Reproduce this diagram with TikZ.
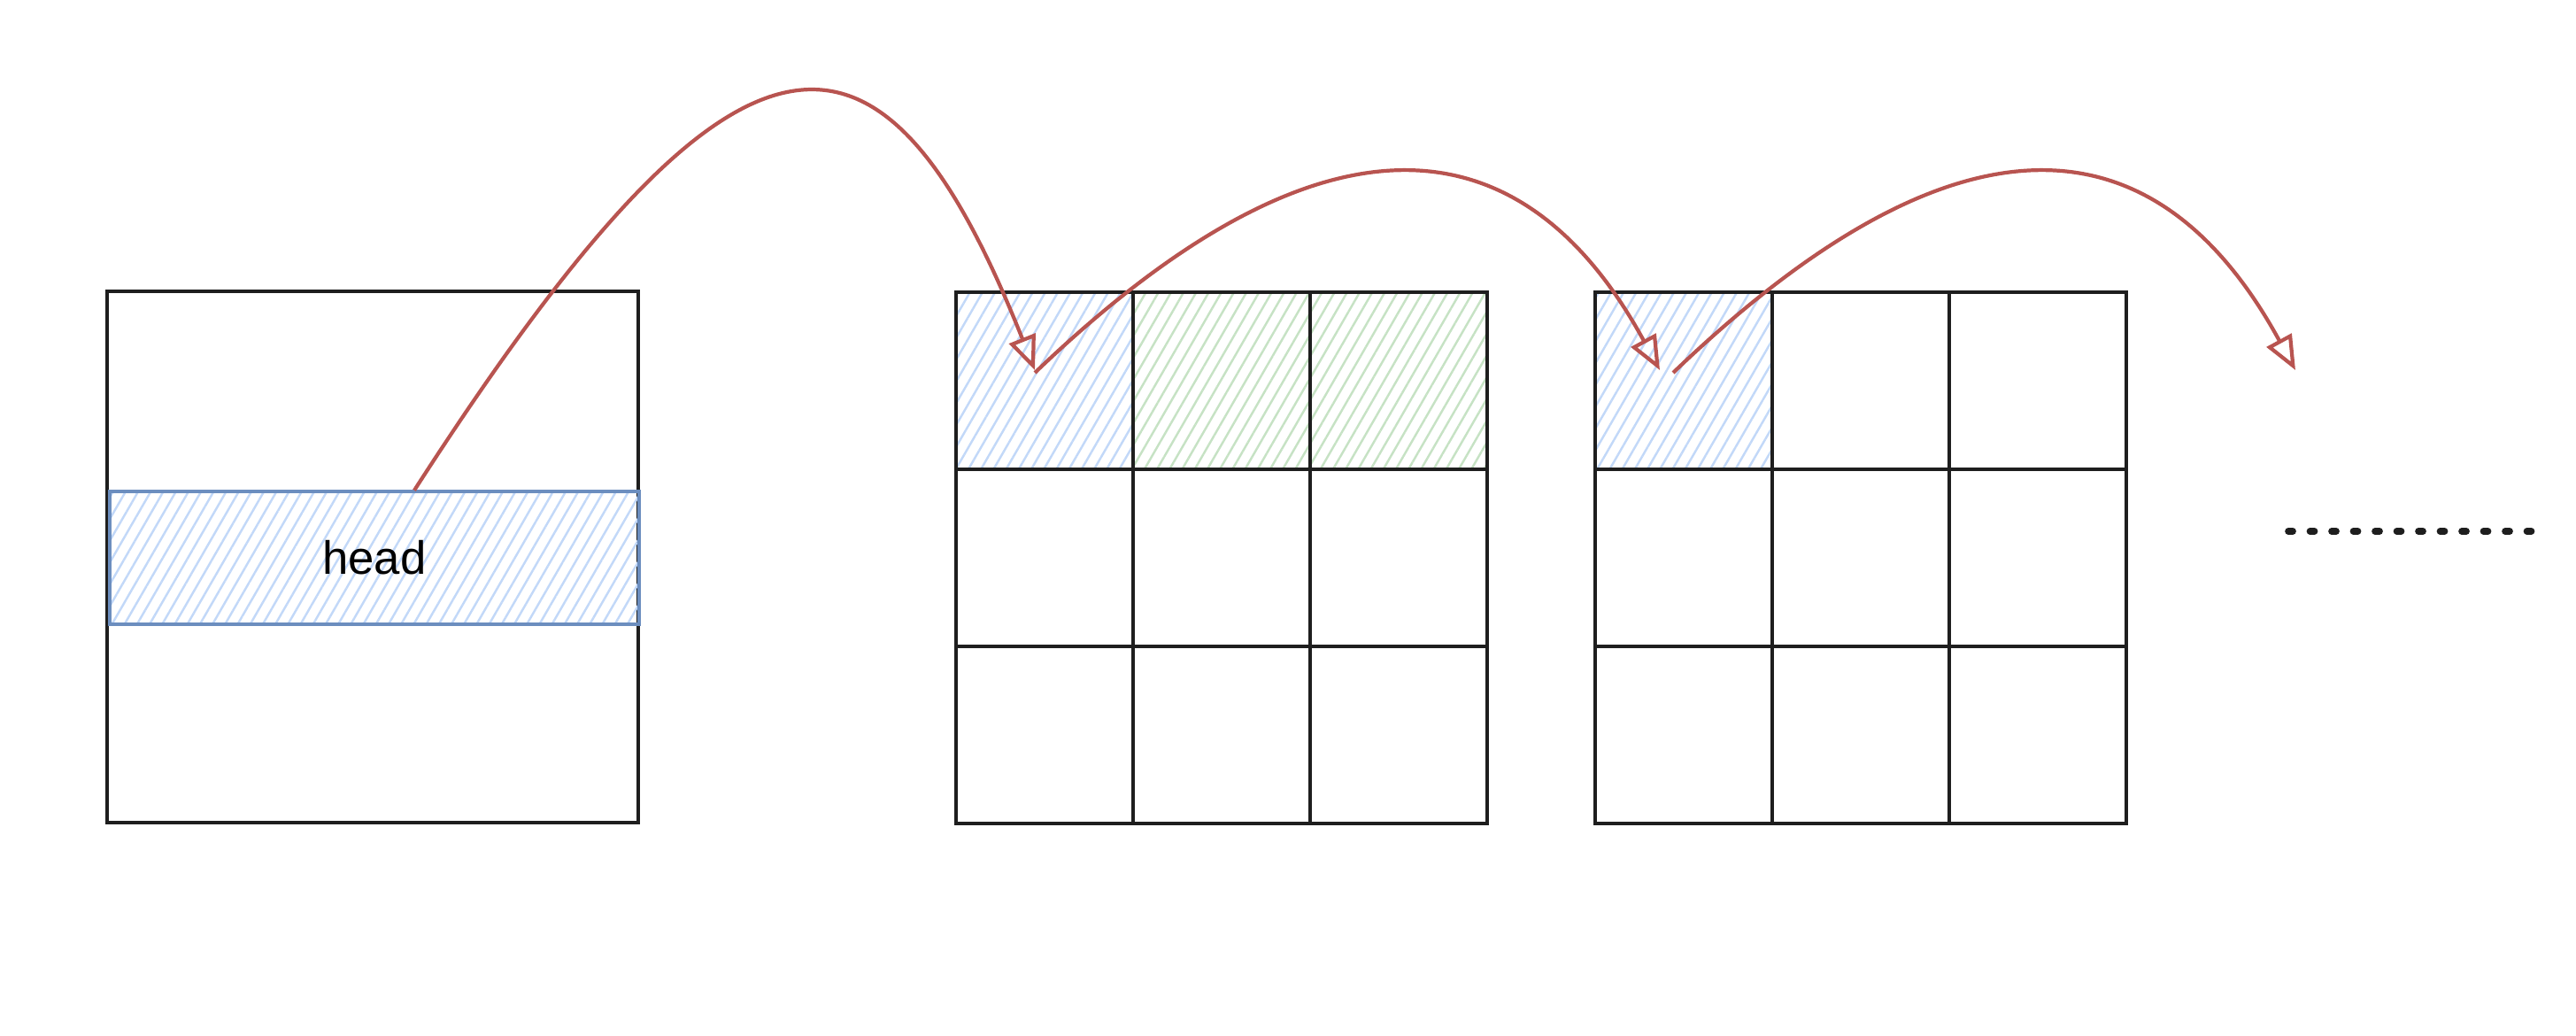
\documentclass[tikz,border=0pt]{standalone}
\usepackage{fontspec}
\setmainfont{Liberation Sans}
\usetikzlibrary{arrows.meta,positioning,patterns.meta}
\definecolor{ink}{HTML}{1E1E1E}
\definecolor{hb}{HTML}{6C8EBF}
\definecolor{hbl}{HTML}{C2D8F8}
\definecolor{hgl}{HTML}{C6E2C4}
\definecolor{rd}{HTML}{B85450}
\tikzset{
  frame/.style={draw=ink,line width=1.3pt,minimum size=6cm,inner sep=0pt},
  cell/.style={draw=ink,line width=1.3pt,minimum size=2cm,inner sep=0pt,outer sep=0pt},
  bcell/.style={cell,pattern={Lines[angle=60,distance=3.5pt,line width=0.7pt]},pattern color=hbl},
  gcell/.style={cell,pattern={Lines[angle=60,distance=3.5pt,line width=0.7pt]},pattern color=hgl},
  hband/.style={draw=hb,line width=1.2pt,minimum width=5.98cm,minimum height=1.5cm,inner sep=0pt,
    pattern={Lines[angle=60,distance=3.5pt,line width=0.7pt]},pattern color=hbl,font=\fontsize{15}{18}\selectfont},
  ar/.style={-{Triangle[open,length=11pt,width=9pt]},line width=1.2pt,draw=rd},
  dots/.style={line width=2.2pt,line cap=round,dash pattern=on 0.5mm off 1.95mm,draw=ink},
}
\begin{document}
\begin{tikzpicture}[node distance=0pt]
\useasboundingbox (0,0) rectangle (29.1,11.7);
\node[frame] (mem) at (4.21,5.41) {};
\node[hband] (head) at (4.23,5.40) {head};
% first block
\node[bcell] (p11) at (11.8,7.4) {};
\node[gcell,right=of p11] (p12) {}; \node[gcell,right=of p12] (p13) {};
\node[cell,below=of p11] (p21) {}; \node[cell,right=of p21] (p22) {}; \node[cell,right=of p22] (p23) {};
\node[cell,below=of p21] (p31) {}; \node[cell,right=of p31] (p32) {}; \node[cell,right=of p32] (p33) {};
% second block
\node[bcell] (q11) at (19.02,7.4) {};
\node[cell,right=of q11] (q12) {}; \node[cell,right=of q12] (q13) {};
\node[cell,below=of q11] (q21) {}; \node[cell,right=of q21] (q22) {}; \node[cell,right=of q22] (q23) {};
\node[cell,below=of q21] (q31) {}; \node[cell,right=of q31] (q32) {}; \node[cell,right=of q32] (q33) {};
\coordinate (nxt) at (25.93,7.52);
\coordinate (dl) at (25.85,5.70); \coordinate (dr) at (28.62,5.70);
\draw[ar] ([xshift=4.5mm]head.north) .. controls (8.35,11.86) and (9.95,11.89) .. ([xshift=-1.1mm,yshift=1.2mm]p11.center);
\draw[ar] ([xshift=-1.1mm,yshift=0.9mm]p11.center) .. controls (15.15,10.80) and (17.31,10.16) .. ([xshift=-2.7mm,yshift=1.2mm]q11.center);
\draw[ar] ([xshift=-1.2mm,yshift=0.9mm]q11.center) .. controls (22.36,10.80) and (24.49,10.16) .. (nxt);
\draw[dots] (dl) -- (dr);
\end{tikzpicture}
\end{document}
